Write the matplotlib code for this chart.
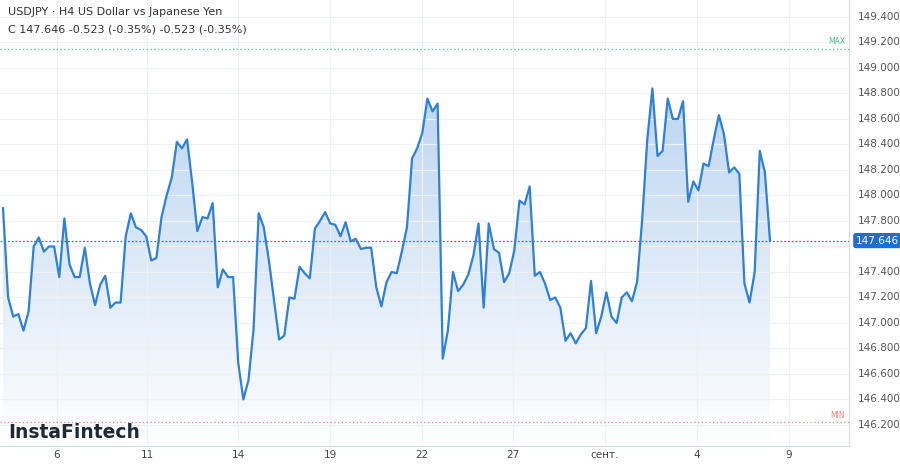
import numpy as np
import matplotlib.pyplot as plt
from matplotlib.patches import Polygon
from matplotlib.colors import LinearSegmentedColormap

# H4 closes
prices = [147.90, 147.20, 147.05, 147.07, 146.94, 147.09, 147.60, 147.67, 147.56, 147.60,
          147.60, 147.36, 147.82, 147.46, 147.36, 147.36, 147.59, 147.31, 147.14, 147.30,
          147.37, 147.12, 147.16, 147.16, 147.68, 147.86, 147.75, 147.73, 147.68, 147.49,
          147.51, 147.83, 148.00, 148.14, 148.42, 148.37, 148.44, 148.10, 147.72, 147.83,
          147.82, 147.94, 147.28, 147.42, 147.36, 147.36, 146.69, 146.40, 146.55, 146.95,
          147.86, 147.75, 147.49, 147.18, 146.87, 146.90, 147.20, 147.19, 147.44, 147.39,
          147.35, 147.74, 147.80, 147.87, 147.78, 147.77, 147.68, 147.79, 147.64, 147.66,
          147.58, 147.59, 147.59, 147.28, 147.13, 147.32, 147.40, 147.39, 147.56, 147.75,
          148.29, 148.37, 148.49, 148.76, 148.66, 148.72, 146.72, 146.94, 147.40, 147.25,
          147.30, 147.38, 147.53, 147.78, 147.12, 147.78, 147.58, 147.55, 147.32, 147.39,
          147.57, 147.96, 147.93, 148.07, 147.37, 147.40, 147.31, 147.18, 147.20, 147.12,
          146.86, 146.92, 146.84, 146.91, 146.96, 147.33, 146.92, 147.05, 147.24, 147.05,
          147.00, 147.20, 147.24, 147.17, 147.32, 147.81, 148.44, 148.84, 148.31, 148.35,
          148.76, 148.60, 148.60, 148.74, 147.95, 148.11, 148.04, 148.25, 148.23, 148.44,
          148.63, 148.48, 148.18, 148.22, 148.17, 147.31, 147.16, 147.40, 148.35, 148.18,
          147.646]
tick_px = [57, 147, 238, 330, 422, 513, 605, 697, 789]
tick_labels = ['6', '11', '14', '19', '22', '27', 'сент.', '4', '9']
last = 147.646
y_max, y_min = 149.15, 146.22

W, H = 900, 467
fig = plt.figure(figsize=(9, 4.67), dpi=100)
ax = fig.add_axes([0, 21 / H, 849 / W, 1 - 21 / H])

n = len(prices)
x = np.arange(n)
# map pixel columns to index units (first point at px 3, last at px 770)
s = (770 - 3) / (n - 1)
px2i = lambda p: (p - 3) / s
ax.set_xlim(px2i(0), px2i(849))
y0, y1 = 146.035, 149.533
ax.set_ylim(y0, y1)

# gradient fill under the line
grad = np.linspace(0.95, 0.0, 256).reshape(-1, 1)
cmap = LinearSegmentedColormap.from_list('g', ['#ffffff', '#b9d3f0'])
img = ax.imshow(grad, cmap=cmap, vmin=0, vmax=1, aspect='auto',
                extent=[0, n - 1, y0, max(prices)], zorder=1)
poly = Polygon(list(zip(x, prices)) + [(n - 1, y0), (0, y0)], closed=True,
               transform=ax.transData, facecolor='none', edgecolor='none')
ax.add_patch(poly)
img.set_clip_path(poly)
ax.plot(x, prices, color='#2f80d8', lw=1.6, zorder=3)

yt = np.arange(146.2, 149.41, 0.2)
ax.set_yticks(yt)
ax.set_xticks([px2i(p) for p in tick_px])
ax.grid(color='#eef0f3', lw=0.9, zorder=0)
ax.tick_params(length=0, labelleft=False, labelbottom=False)
for sp in ax.spines.values():
    sp.set_visible(False)
ax.spines['right'].set_visible(True)
ax.spines['bottom'].set_visible(True)
ax.spines['right'].set_color('#d8dde3')
ax.spines['bottom'].set_color('#d8dde3')

for v in yt:
    if abs(v - 147.6) < 0.01:
        continue
    ax.text(1.01, (v - y0) / (y1 - y0), f'{v:.3f}', transform=ax.transAxes,
            fontsize=7.5, color='#555555', va='center', ha='left')
for p, lab in zip(tick_px, tick_labels):
    ax.text(px2i(p), 146.035 - 0.07, lab, fontsize=7.5, color='#444444',
            ha='center', va='center', clip_on=False)

ax.axhline(last, color='#2f80d8', lw=0.9, ls=(0, (1.5, 1.5)), zorder=2)
ax.axhline(y_max, color='#4cbf8a', lw=0.9, ls=(0, (1, 2)), zorder=2)
ax.axhline(y_min, color='#f07f7f', lw=0.9, ls=(0, (1, 2)), zorder=2)
ax.text(px2i(845), y_max + 0.02, 'MAX', color='#4cbf8a', fontsize=5.5, ha='right', va='bottom')
ax.text(px2i(845), y_min + 0.02, 'MIN', color='#f07f7f', fontsize=5.5, ha='right', va='bottom')
ax.text(1.008, (last - y0) / (y1 - y0), f'{last:.3f}', transform=ax.transAxes,
        fontsize=7.5, color='white', va='center', ha='left',
        bbox=dict(boxstyle='round,pad=0.25', fc='#1f6fd0', ec='none'))

fig.text(8 / W, 1 - 12 / H, 'USDJPY · H4 US Dollar vs Japanese Yen', fontsize=8, color='#333333', va='center')
fig.text(8 / W, 1 - 30 / H, 'C 147.646 -0.523 (-0.35%) -0.523 (-0.35%)', fontsize=8, color='#333333', va='center')
fig.text(8 / W, 1 - 432 / H, 'InstaFintech', fontsize=13.5, color='#1e2a36', va='center', fontweight='semibold')

fig.savefig('out.png', dpi=100)
